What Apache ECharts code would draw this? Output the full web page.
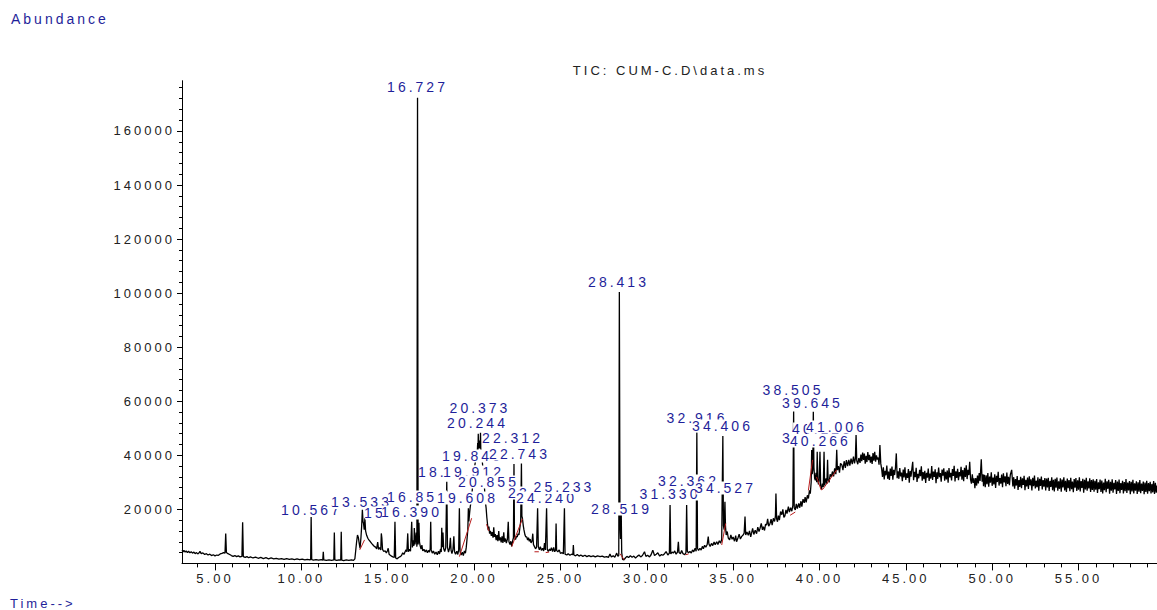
<!DOCTYPE html>
<html>
<head>
<meta charset="utf-8">
<script src="https://cdn.jsdelivr.net/npm/echarts@6/dist/echarts.min.js"></script>
<style>
  html, body { margin: 0; padding: 0; background: #fff; }
  #chart { width: 1157px; height: 610px; }
  #chart svg text { letter-spacing: 3px; }
</style>
</head>
<body>
<div id="chart"></div>
<script>
// ---- axis ticks ----
const xMajorTicks = [5, 10, 15, 20, 25, 30, 35, 40, 45, 50, 55];
const xMinorTicks = [4,5,6,7,8,9,10,11,12,13,14,15,16,17,18,19,20,21,22,23,24,25,26,27,28,29,30,31,32,33,34,35,36,37,38,39,40,41,42,43,44,45,46,47,48,49,50,51,52,53,54,55,56,57,58,59];
const yMajorTicks = [20000, 40000, 60000, 80000, 100000, 120000, 140000, 160000];
const yMinorTicks = [4000,8000,12000,16000,20000,24000,28000,32000,36000,40000,44000,48000,52000,56000,60000,64000,68000,72000,76000,80000,84000,88000,92000,96000,100000,104000,108000,112000,116000,120000,124000,128000,132000,136000,140000,144000,148000,152000,156000,160000,164000,168000,172000,176000];

// ---- TIC trace [time (min), abundance] ----
const traceEarly = [[3.09,4900],[3.15,4300],[3.2,4800],[3.27,4200],[3.33,4600],[3.4,4000],[3.47,4500],[3.55,3900],[3.62,4300],[3.7,3800],[3.78,4200],[3.85,3600],[3.93,4000],[4.0,3500],[4.08,3900],[4.13,4500],[4.2,3600],[4.3,3900],[4.4,3300],[4.5,3600],[4.6,3100],[4.7,3400],[4.8,2900],[4.9,3200],[5.0,2800],[5.1,3100],[5.2,3000],[5.3,3500],[5.4,3700],[5.5,4000],[5.58,3800],[5.62,11100],[5.66,4000],[5.75,3600],[5.85,3300],[5.95,2900],[6.05,2600],[6.15,2900],[6.25,2500],[6.35,2800],[6.45,2400],[6.56,2600],[6.6,15200],[6.64,2500],[6.75,2200],[6.85,2500],[6.95,2100],[7.05,2400],[7.2,2000],[7.35,2300],[7.5,1900],[7.65,2200],[7.8,1800],[7.95,2100],[8.1,1700],[8.25,2000],[8.4,1700],[8.55,1900],[8.7,1600],[8.85,1800],[9.0,1500],[9.15,1800],[9.3,1500],[9.45,1700],[9.6,1400],[9.75,1700],[9.9,1400],[10.05,1600],[10.2,1300],[10.35,1500],[10.5,1300],[10.54,1500],[10.567,17200],[10.6,1400],[10.7,1200],[10.85,1400],[11.0,1200],[11.15,1400],[11.24,1200],[11.27,4300],[11.3,1300],[11.45,1100],[11.6,1300],[11.75,1100],[11.88,1300],[11.91,11400],[11.94,1300],[12.05,1100],[12.18,1300],[12.28,1200],[12.31,11700],[12.34,1200],[12.45,1000],[12.6,1300],[12.75,1100],[12.9,1300],[13.02,1100],[13.1,1700],
[13.16,5500],[13.2,8000],[13.25,10500],[13.3,9600],[13.35,7400],[13.4,5600],[13.45,9500],[13.49,13500],[13.533,19800],[13.57,15500],[13.6,14800],[13.64,12500],[13.68,16700],[13.72,12000],[13.78,10400],[13.85,9300],[13.92,8600],[14.0,8000],[14.08,7300],[14.15,6800],[14.22,6300],[14.3,6000],[14.36,5400],[14.42,7900],[14.47,5200],[14.53,5900],[14.6,5000],[14.63,11100],[14.66,9500],[14.7,5200],[14.77,4400],[14.85,4700],[14.92,3900],[14.98,4600],[15.03,5600],[15.08,3400],[15.15,3000],[15.22,2700],[15.3,2400],[15.38,2200],[15.42,15400],[15.46,2000],[15.55,1700],[15.63,2200],[15.72,2500],[15.8,2900],[15.87,3900],[15.94,3300],[16.0,4200],[16.06,5000],[16.11,4300],[16.16,11100],[16.2,4300],[16.26,5200],[16.32,4500],[16.39,15400],[16.43,5900],[16.48,8500],[16.52,6500],[16.54,13100],[16.58,7000],[16.62,9000],[16.65,11400],[16.69,6200],[16.727,172300],[16.76,7000]];

const traceMid = [[16.79,9500],[16.81,15000],[16.84,8000],[16.88,6500],[16.93,5300],[16.98,6800],[17.03,4600],[17.1,5200],[17.17,4200],[17.24,5000],[17.3,3900],[17.36,4800],[17.42,4200],[17.46,5500],[17.49,15400],[17.52,5000],[17.58,3800],[17.65,4600],[17.72,3400],[17.8,4200],[17.87,3200],[17.94,4500],[18.0,3500],[18.06,5400],[18.1,4200],[18.13,13200],[18.16,6000],[18.2,11400],[18.24,5500],[18.3,4400],[18.36,5800],[18.42,30200],[18.46,6000],[18.52,4200],[18.58,5600],[18.63,9500],[18.67,4800],[18.72,3600],[18.78,5200],[18.83,10000],[18.87,4300],[18.93,3400],[19.0,4500],[19.06,3300],[19.11,5000],[19.15,20400],[19.19,4400],[19.25,3100],[19.32,4100],[19.38,2900],[19.44,4600],[19.5,3800],[19.55,6000],[19.6,9500],[19.64,12500],[19.67,20400],[19.7,15500],
[19.74,18500],[19.78,21000],[19.82,22500],[19.86,24500],[19.9,27500],[19.95,31000],[20.0,34000],[20.05,36500],[20.1,38500],[20.15,40000],[20.19,41500],[20.21,44500],[20.23,42000],[20.244,48000],[20.26,43000],[20.29,45500],[20.31,42500],[20.33,44000],[20.35,42500],[20.373,48300],[20.39,42500],[20.43,40500],[20.48,37500],[20.53,34000],[20.58,30000],[20.63,25500],[20.67,22000],[20.7,20400],[20.74,17000],[20.78,14500],[20.82,12300],[20.86,13600],[20.9,11000],
[20.95,12000],[21.0,10200],[21.05,11600],[21.1,9500],[21.14,13400],[21.18,9800],[21.23,10800],[21.28,8600],[21.33,10500],[21.38,8200],[21.43,12000],[21.47,8500],[21.52,9600],[21.57,7800],[21.62,10000],[21.67,7600],[21.72,11500],[21.76,8000],[21.82,9200],[21.87,7500],[21.93,8900],[21.98,15400],[22.02,8000],[22.08,7000],[22.13,8200],[22.18,6300],[22.24,8500],[22.28,9500],[22.312,36800],[22.34,10500],[22.4,8800],[22.45,9900],[22.5,9800],[22.55,11000],[22.6,10500],[22.65,13000],[22.7,15500],[22.743,37000],[22.77,17500],[22.8,16700],[22.85,14000],[22.89,12400],[22.95,10500],[23.0,9800],[23.05,9800],[23.1,8600],[23.15,9500],[23.2,8200],[23.25,9000],[23.3,7600],[23.36,8400],[23.4,11000],[23.44,7000],[23.5,6200],[23.56,5400],[23.62,6000],[23.68,20400],[23.72,6200],[23.78,5000],[23.84,6200],[23.9,4800],[23.97,5600],[24.03,4600],[24.08,7500],[24.13,5000],[24.2,20400],[24.24,5200],[24.3,4400],[24.37,5300],[24.42,4700],[24.48,5800],[24.55,4400],[24.61,5900],[24.67,4300],[24.72,5000],[24.75,14800],[24.78,4800],[24.85,4300],[24.93,5000],[25.0,3700],[25.1,4000],[25.17,3500],[25.233,20400],[25.27,3400],[25.37,3100],[25.45,3600],[25.55,3000],[25.65,3400],[25.72,3200],[25.75,6800],[25.78,3100],[25.88,2800],[25.98,3300],[26.08,2700],[26.18,3100],[26.3,2600],[26.42,3000],[26.53,2500],[26.65,2900],[26.77,2500],[26.9,2800],[27.02,2400],[27.15,2800],[27.3,2500]];

const traceLate = [[27.42,2700],[27.55,2300],[27.68,2500],[27.78,2200],[27.87,3500],[27.95,2400],[28.06,2800],[28.15,2300],[28.26,3800],[28.33,2600],[28.38,3000],[28.413,100400],[28.45,14000],[28.48,9000],[28.519,20000],[28.55,4000],[28.6,1500],[28.68,1300],[28.76,2000],[28.85,2600],[28.95,2200],[29.05,2800],[29.15,2300],[29.25,2700],[29.35,2000],[29.45,2600],[29.55,3100],[29.65,2400],[29.75,2900],[29.87,4300],[29.95,2600],[30.05,3000],[30.16,2400],[30.25,3200],[30.35,4900],[30.45,2900],[30.55,3400],[30.64,3900],[30.75,2700],[30.85,3300],[30.93,3000],[31.03,3600],[31.12,4400],[31.22,3100],[31.31,3800],[31.35,21600],[31.39,3500],[31.47,4200],[31.54,3800],[31.62,4600],[31.7,3400],[31.78,4200],[31.83,8000],[31.87,4000],[31.95,3600],[32.02,4800],[32.1,3600],[32.2,3200],[32.27,4000],[32.31,21600],[32.35,4500],[32.42,3900],[32.5,4400],[32.58,3800],[32.65,5000],[32.72,4300],[32.8,5600],[32.86,4500],[32.9,48500],[32.94,5500],[33.0,4800],[33.08,5600],[33.15,4900],[33.22,6300],[33.28,5400],[33.35,6700],[33.42,6000],[33.5,7000],[33.56,9900],[33.6,7200],[33.67,6300],[33.75,7400],[33.82,6600],[33.9,7900],[33.96,6900],[34.05,8000],[34.12,7000],[34.2,8400],[34.28,7500],[34.34,9000],[34.406,47150],[34.44,14000],[34.48,12500],[34.527,22800],[34.56,13500],[34.6,10500],[34.66,11800],[34.72,9400],[34.8,8700],[34.87,10500],[34.94,8900],[35.0,9800],[35.08,8200],[35.15,10300],[35.2,8000],[35.28,9400],[35.35,10800],[35.42,9000],[35.5,10000],[35.58,10500],[35.64,11200],[35.69,17300],[35.73,10500],
[35.8,11600],[35.88,10400],[35.95,12000],[36.02,9800],[36.07,11200],[36.13,13000],[36.2,10700],[36.28,12300],[36.36,11000],[36.43,13400],[36.5,11800],[36.56,13000],[36.63,14800],[36.7,12400],[36.75,13600],[36.82,12200],[36.88,14500],[36.94,14200],[37.0,16500],[37.06,13800],[37.13,14600],[37.2,16400],[37.26,14200],[37.33,16700],[37.4,15500],[37.45,17500],[37.48,25900],[37.52,16500],[37.57,15400],[37.62,17700],[37.68,16000],[37.75,19200],[37.82,18000],[37.88,20000],[37.94,17000],[38.0,17600],[38.06,19800],[38.12,18400],[38.2,21000],[38.26,19000],[38.33,20600],[38.4,19300],[38.46,21500],[38.505,56200],[38.54,20500],[38.6,19800],[38.66,22000],[38.72,20300],[38.8,22200],[38.86,20600],[38.93,23000],[38.98,21000],[39.05,23800],[39.12,22400],[39.17,24500],[39.23,22600],[39.3,25200],[39.36,24000],[39.42,27000],[39.47,25800],[39.52,30000],[39.55,42000],[39.58,33000],[39.61,34500],[39.645,56100],[39.68,35500],[39.72,31500],[39.76,30800],[39.8,33500],[39.84,30000],[39.87,41300],[39.9,31500],[39.94,29200],[39.98,30500],[40.03,41300],[40.07,28800],[40.12,27400],[40.17,29500],[40.22,28300],[40.266,41300],[40.3,28800],[40.35,30500],[40.38,31500],[40.43,29400],[40.47,38300],[40.5,31000],[40.56,30000],[40.62,33000],[40.69,32100],[40.75,34000],[40.82,32200],[40.88,35200],[40.95,33000],[41.0,42000],[41.04,34500],[41.1,36000],[41.16,33600],[41.22,37000],[41.3,36400],[41.36,34500],[41.43,37800],[41.5,35300],[41.56,38200],[41.63,36000],[41.7,38300],[41.76,36200],[41.83,38800],[41.9,36700],[41.97,39500],[42.03,37000],[42.08,38800],[42.12,47500],[42.16,38000],[42.22,36700],[42.28,39000]];

const traceTail = [[42.35,37200],[42.4,40300],[42.45,37800],[42.5,41000],[42.55,38300],[42.6,40600],[42.65,36900],[42.7,39800],[42.75,37500],[42.8,41200],[42.85,38200],[42.9,40200],[42.95,37300],[43.0,39500],[43.05,36800],[43.1,40800],[43.15,38000],[43.2,41300],[43.25,37600],[43.3,40000],[43.35,38400],[43.4,39200],[43.45,36500],[43.5,43800],[43.55,37000],[43.6,35000],
[43.65,32000],[43.7,35600],[43.75,31100],[43.8,34300],[43.85,32600],[43.9,36200],[43.95,31300],[44.0,34000],[44.05,30900],[44.1,35100],[44.15,32400],[44.2,35800],[44.25,31000],[44.3,34600],[44.35,32700],[44.4,35300],[44.45,40700],[44.5,31500],
[44.55,34100],[44.6,31300],[44.65,35300],[44.7,32200],[44.75,33600],[44.8,30400],[44.85,34700],[44.9,31800],[44.95,35600],[45.0,30900],[45.05,33300],[45.1,31600],[45.15,34900],[45.2,29900],[45.25,34200],[45.3,32100],[45.35,35000],[45.4,37600],[45.45,30800],[45.5,33900],[45.55,31900],[45.6,35400],[45.65,30100],[45.7,33100],[45.75,31500],[45.8,34600],[45.85,32300],[45.9,35900],[45.95,30600],[46.0,33800],[46.05,31200],[46.1,34300],[46.15,29800],[46.2,33500],
[46.25,31700],[46.3,35100],[46.35,30500],[46.4,33200],[46.45,31400],[46.5,36000],[46.55,30900],[46.6,34000],[46.65,32000],[46.7,34800],[46.75,29700],[46.8,33700],[46.85,31300],[46.9,35500],[46.95,31900],[47.0,33400],[47.05,30200],[47.1,34700],[47.15,32500],[47.2,35200],[47.25,30600],[47.3,33900],[47.35,31100],[47.4,34400],[47.45,29900],[47.5,35300],[47.55,31800],[47.6,33500],[47.65,30700],[47.7,34900],[47.75,32400],[47.8,36100],[47.85,30300],[47.9,34100],[47.95,31600],[48.0,35000],[48.05,30800],[48.1,33800],[48.15,32200],[48.2,35700],[48.25,31000],[48.3,34500],[48.35,30400],[48.4,35400],[48.45,32000],[48.5,36300],[48.55,31200],[48.6,34600],[48.65,32700],[48.7,37600],[48.75,31000],[48.8,29500],[48.85,33000],[48.9,29800],[48.95,31500],[49.0,27800],[49.05,31600],[49.1,28800],[49.15,32500],[49.2,29600],[49.25,33400],[49.3,30500],[49.37,38500],[49.42,30200],[49.47,33000],[49.5,28600],[49.55,32800],[49.6,28200],
[49.65,32600],[49.7,29300],[49.75,33400],[49.8,28400],[49.85,32100],[49.9,29900],[49.95,33700],[50.0,28700],[50.05,31800],[50.1,29200],[50.15,33000],[50.2,27900],[50.25,32400],[50.3,30100],[50.35,33900],[50.4,28800],[50.45,31600],[50.5,29500],[50.55,32900],[50.6,28200],[50.65,33300],[50.7,30000],[50.75,32200],[50.8,28600],[50.85,33600],[50.9,29400],[50.95,32000],[51.0,28900],[51.05,32700],[51.13,34600],[51.2,28500],
[51.25,31900],[51.3,27600],[51.35,31200],[51.4,28800],[51.45,32300],[51.5,27200],[51.55,30800],[51.6,28300],[51.65,32000],[51.7,27800],[51.75,31500],[51.8,29000],[51.85,32400],[51.9,27100],[51.95,30900],[52.0,28500],[52.05,31800],[52.1,27500],[52.15,32200],[52.2,28900],[52.25,31100],[52.3,27000],[52.35,31700],[52.4,28600],[52.45,32500],[52.5,27700],[52.55,30600],[52.6,28200],[52.65,31900],[52.7,26900],[52.75,31300],[52.8,28700],[52.85,32100],[52.9,27400],[52.95,30800],[53.0,28400],[53.05,31600],[53.1,27000],[53.15,31400],[53.2,28100],
[53.25,31700],[53.3,26800],[53.35,30500],[53.4,28300],[53.45,31900],[53.5,27100],[53.55,30900],[53.6,26600],[53.65,31300],[53.7,28000],[53.75,31800],[53.8,26900],[53.85,30400],[53.9,27600],[53.95,31500],[54.0,26500],[54.05,31000],[54.1,28100],[54.15,31900],[54.2,27000],[54.25,30600],[54.3,26400],[54.35,31400],[54.4,27800],[54.45,30800],[54.5,26700],[54.55,31700],[54.6,27500],[54.65,30300],[54.7,26300],[54.75,31200],[54.8,28000],[54.85,31600],[54.9,26800],[54.95,30700],[55.0,27300],[55.05,31900],[55.1,26600],[55.15,30500],[55.2,27900],[55.25,31300],[55.3,26200],[55.35,30900],[55.4,27400],[55.45,31700],[55.5,26900],[55.55,30400],[55.6,27700],[55.65,31500],[55.7,26400],[55.75,30800],[55.8,27200],[55.85,31100],[55.9,26500],
[55.95,30600],[56.0,27300],[56.05,31200],[56.1,26100],[56.15,30000],[56.2,27500],[56.25,31000],[56.3,26400],[56.35,30700],[56.4,25900],[56.45,29900],[56.5,27100],[56.55,31300],[56.6,26300],[56.65,30400],[56.7,27600],[56.75,30900],[56.8,25800],[56.85,30200],[56.9,26900],[56.95,31100],[57.0,26200],[57.05,29800],[57.1,27400],[57.15,30800],[57.2,25700],[57.25,30300],[57.3,26800],[57.35,31000],[57.4,26000],[57.45,29700],[57.5,27200],[57.55,30600],[57.6,25900],[57.65,30100],[57.7,26700],[57.75,31200],[57.8,26100],[57.85,29900],[57.9,27000],[57.95,30500],[58.0,25600],[58.05,30200],[58.1,26600],[58.15,30900],[58.2,25900],[58.25,29600],[58.3,26900],[58.35,30400],[58.4,25700],[58.45,30000],[58.5,26500],[58.55,30800],[58.6,26000],[58.65,29500],[58.7,26800],[58.75,30300],[58.8,25600],[58.85,29900],[58.9,26400],[58.95,30600],[59.0,25800],[59.05,29700],[59.1,26700],[59.15,30200],[59.2,25900],[59.25,29400],[59.3,26300],[59.35,30500],[59.4,25700],[59.45,29800],[59.5,26200],[59.545,28800]];

// ---- integration baselines (red) ----
const baselineSegments = [
  [[13.38,5000],[13.66,8700]],
  [[19.15,2500],[19.86,16700]],
  [[20.72,14500],[20.86,12000]],
  [[22.18,6200],[22.8,16500]],
  [[23.5,4300],[23.75,4300]],
  [[24.15,4000],[24.35,4200]],
  [[28.45,3600],[28.7,1300]],
  [[32.25,3200],[32.42,3500]],
  [[34.34,6800],[34.57,14800]],
  [[38.3,17800],[38.6,19000]],
  [[39.36,27000],[39.6,38300]],
  [[39.83,32000],[40.1,27200],[40.2,27500],[41.0,34600]]
];

// ---- peak labels [label anchor time, label anchor abundance, text] ----
const peakLabels = [
  [10.588, 19760, '10.567'],
  [13.483, 22540, '13.533'],
  [15.394, 18650, '15.418'],
  [16.378, 19020, '16.390'],
  [16.726, 176320, '16.727'],
  [16.726, 24570, '16.851'],
  [18.521, 33830, '18.433'],
  [19.621, 24200, '19.608'],
  [19.910, 39750, '19.840'],
  [19.968, 33830, '19.912'],
  [20.200, 51960, '20.244'],
  [20.344, 57330, '20.373'],
  [20.837, 30130, '20.855'],
  [22.226, 46410, '22.312'],
  [22.632, 40490, '22.743'],
  [23.732, 26050, '23.680'],
  [24.195, 24200, '24.240'],
  [25.208, 28090, '25.233'],
  [28.364, 104150, '28.413'],
  [28.538, 20130, '28.519'],
  [31.346, 25690, '31.330'],
  [32.418, 30500, '32.362'],
  [32.910, 53810, '32.916'],
  [34.386, 50850, '34.406'],
  [34.560, 27910, '34.527'],
  [38.468, 64170, '38.505'],
  [39.597, 46410, '39.536'],
  [39.597, 59360, '39.645'],
  [40.176, 49740, '40.123'],
  [40.060, 45300, '40.266'],
  [40.987, 50480, '41.006']
];

const FONT = '"Liberation Sans", Arial, sans-serif';
const BLUE = '#1f1f9a';
const X_MIN = 3.089, X_MAX = 59.545, Y_MAX = 178600;

const chart = echarts.init(document.getElementById('chart'), null, { renderer: 'svg', width: 1157, height: 610 });

const series = [
  {
    type: 'line', name: 'TIC', xAxisIndex: 0, yAxisIndex: 0, z: 2,
    data: traceEarly.concat(traceMid, traceLate, traceTail),
    showSymbol: false, symbol: 'none',
    lineStyle: { color: '#000', width: 1.3 },
    emphasis: { disabled: true }, silent: true
  }
];
baselineSegments.forEach(seg => {
  series.push({
    type: 'line', xAxisIndex: 0, yAxisIndex: 0, z: 3,
    data: seg, symbol: 'none',
    lineStyle: { color: '#b81c1c', width: 1 },
    emphasis: { disabled: true }, silent: true
  });
});
series.push({
  type: 'scatter', xAxisIndex: 0, yAxisIndex: 0, z: 10,
  data: peakLabels, symbolSize: 1,
  itemStyle: { color: 'rgba(0,0,0,0)', opacity: 1 },
  label: {
    show: true, position: 'inside', opacity: 1,
    formatter: p => p.data[2],
    color: BLUE, fontFamily: FONT, fontSize: 14, lineHeight: 13,
    backgroundColor: '#fff', padding: [0, 8]
  },
  emphasis: { disabled: true }, silent: true
});

chart.setOption({
  animation: false,
  backgroundColor: '#fff',
  grid: { left: 182, right: 0, top: 80.7, bottom: 46.6, containLabel: false },
  xAxis: [
    {
      type: 'value', min: X_MIN, max: X_MAX, position: 'bottom',
      axisLine: { show: true, lineStyle: { color: '#000', width: 1 } },
      splitLine: { show: false },
      axisTick: { show: true, length: 7, customValues: xMajorTicks, lineStyle: { color: '#000' } },
      axisLabel: { customValues: xMajorTicks, formatter: v => v.toFixed(2), color: '#222', fontFamily: FONT, fontSize: 13, margin: 9 }
    },
    {
      type: 'value', min: X_MIN, max: X_MAX, position: 'bottom', offset: 0,
      axisLine: { show: false },
      splitLine: { show: false },
      axisTick: { show: true, length: 4, customValues: xMinorTicks, lineStyle: { color: '#000' } },
      axisLabel: { show: false }
    }
  ],
  yAxis: [
    {
      type: 'value', min: 0, max: Y_MAX, position: 'left',
      axisLine: { show: true, lineStyle: { color: '#000', width: 1 } },
      splitLine: { show: false },
      axisTick: { show: true, length: 5, customValues: yMajorTicks, lineStyle: { color: '#000' } },
      axisLabel: { customValues: yMajorTicks, formatter: v => String(v), color: '#222', fontFamily: FONT, fontSize: 13, margin: 7 }
    },
    {
      type: 'value', min: 0, max: Y_MAX, position: 'left', offset: 0,
      axisLine: { show: false },
      splitLine: { show: false },
      axisTick: { show: true, length: 3, customValues: yMinorTicks, lineStyle: { color: '#000' } },
      axisLabel: { show: false }
    }
  ],
  graphic: [
    { type: 'text', x: 11, y: 19, style: { text: 'Abundance', fill: BLUE, font: '14px ' + FONT, align: 'left', verticalAlign: 'middle' } },
    { type: 'text', x: 10, y: 603, style: { text: 'Time-->', fill: BLUE, font: '13px ' + FONT, align: 'left', verticalAlign: 'middle' } },
    { type: 'text', x: 670, y: 70, style: { text: 'TIC: CUM-C.D\\data.ms', fill: '#222', font: '13px ' + FONT, align: 'center', verticalAlign: 'middle' } }
  ],
  series: series
});
</script>
</body>
</html>
